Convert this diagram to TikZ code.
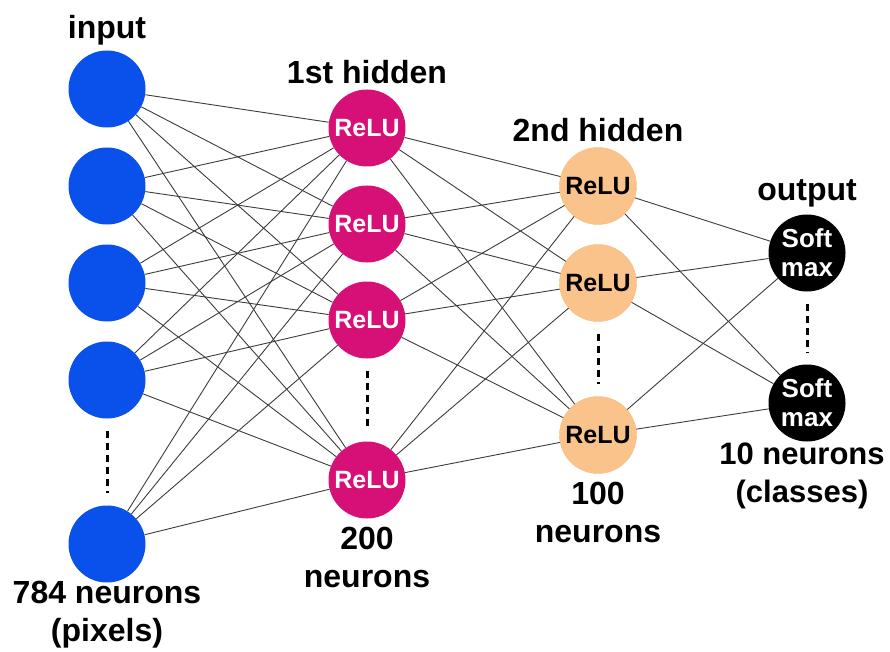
\documentclass[tikz,border=0pt]{standalone}
\usepackage{fontspec}
\setmainfont{Liberation Sans}
\usetikzlibrary{positioning}

\definecolor{inblue}{RGB}{10,80,235}
\definecolor{relupink}{RGB}{214,16,118}
\definecolor{relupeach}{RGB}{250,195,140}
\definecolor{linkgray}{RGB}{60,60,60}

\tikzset{
  neuron/.style={circle, minimum size=77pt, inner sep=0pt,
    font=\fontsize{25}{28}\selectfont\bfseries, align=center},
  layertitle/.style={font=\fontsize{32}{38}\selectfont\bfseries, align=center},
  link/.style={draw=linkgray, line width=0.9pt},
  dots/.style={line width=3pt, dash pattern=on 7pt off 5pt,
    shorten >=12pt, shorten <=12pt}
}

\begin{document}
\begin{tikzpicture}[x=1pt,y=-1pt]
        \useasboundingbox (0,0) rectangle (890,652);

        % layers
        \foreach \i/\y in {1/89,2/186,3/283,4/380,5/544}
        \node[neuron, fill=inblue] (in\i) at (107,\y) {};

        \foreach \i/\y in {1/128,2/224,3/320,4/480}
        \node[neuron, fill=relupink, text=white] (h\i) at (367,\y) {ReLU};

        \foreach \i/\y in {1/186,2/283,3/435}
        \node[neuron, fill=relupeach, draw=relupeach!85!orange, text=black] (g\i) at (598,\y) {ReLU};

        \foreach \i/\y in {1/253,2/403}
        \node[neuron, fill=black, text=white, font=\fontsize{26}{29}\selectfont\bfseries] (out\i) at (807,\y) {Soft\\max};

        % weights
        \foreach \a in {1,...,5}
        \foreach \b in {1,...,4}
        \draw[link] (in\a) -- (h\b);

        \foreach \a in {1,...,4}
        \foreach \b in {1,...,3}
        \draw[link] (h\a) -- (g\b);

        \foreach \a in {1,...,3}
        \foreach \b in {1,2}
        \draw[link] (g\a) -- (out\b);

        % omitted neurons
        \draw[dots] (in4) -- (in5);
        \draw[dots] (h3) -- (h4);
        \draw[dots] (g2) -- (g3);
        \draw[dots] (out1) -- (out2);

        % titles
        \node[layertitle] (tin) at (107,30) {input};
        \node[layertitle] (th) at (367,72) {1st hidden};
        \node[layertitle] (tg) at (598,130) {2nd hidden};
        \node[layertitle] (tout) at (807,193) {output};

        \node[layertitle] (nin) at (107,615) {784 neurons\\(pixels)};
        \node[layertitle] (nh) at (367,557) {200\\neurons};
        \node[layertitle] (ng) at (598,512) {100\\neurons};
        \node[layertitle, font=\fontsize{31}{38}\selectfont\bfseries] (nout) at (802,476) {10 neurons\\(classes)};
\end{tikzpicture}
\end{document}
